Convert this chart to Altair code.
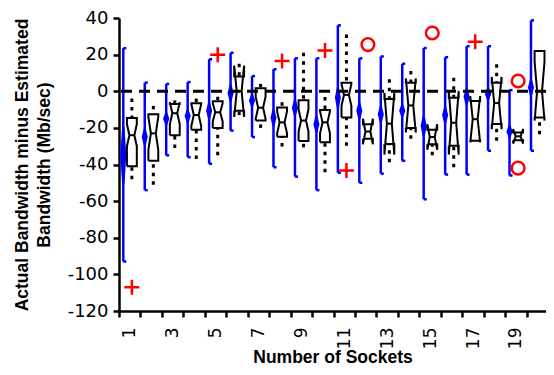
import altair as alt
import pandas as pd

# ---------------- data ----------------
sockets = list(range(1, 21))

# blue range lines (top / bottom) and the blue diamond (centre, half height)
blue_hi = [23.5, 4.7, 4, 5, 17.5, 21, 8.3, 12, 18, 18, 36, 18, 19, 15, 23.6, 18.6, 24.6, 24.6, 0.6, 38.7]
blue_lo = [-93, -54, -35, -36, -39.6, -21.5, -25, -41.5, -46.6, -54, -44.5, -50, -45, -38, -59, -45.5, -45.5, -32.5, -46, -32.5]
blue_mid = [-35, -25, -15, -13.5, -10.7, -1, -5, -14.5, -9, -18, -3.5, -10.7, -12.6, -10.7, -19, -13, -3, -1.5, -22, 2]
blue_half = [15, 4, 3, 3, 4, 4, 3, 4, 4, 4, 5, 4, 4, 3, 5, 4, 4, 3, 3, 4]

# notched box plots
q1 = [-41, -38, -24, -21, -20, -10.7, -16, -24.8, -27.1, -27.9, -14.3, -26, -28.8, -20.1, -29, -29.7, -27, -17.9, -26.7, -14.3]
q3 = [-14.6, -12.5, -7, -6.5, -5.5, 8, 1.6, -8.9, -4.9, -10.3, 4.6, -18, -4.3, 4.7, -21, -3.5, -5.3, 4.7, -22.5, 22]
median = [-24, -23, -12, -13, -11.5, 0, -9, -17, -16, -17, -2, -22, -17.7, -7.75, -25, -17.2, -15.25, -6.45, -24.6, 0]
notch = [6, 9, 6, 6, 5, 14, 6, 6, 6, 6, 6, 7, 16.9, 14.75, 7, 17.4, 12.65, 14.25, 4, 16]
whisker_hi = [-4, -8, -5, -4, -3, 15, 4, -6, 21, -3.2, 31, -18, 6.5, 11, -21, 7.4, -5.3, 14.7, -22.5, 22]
whisker_lo = [-48, -51, -31, -37, -35, -13, -20, -30.2, -30.6, -44.2, -29.7, -26, -38.8, -26, -35, -41.5, -27, -27, -26.7, -23.5]

# outliers
plus_socket = [1, 5, 8, 10, 11, 17]
plus_value = [-107, 20, 16.5, 22.3, -43.3, 27]
circle_socket = [12, 15, 19, 19]
circle_value = [25.5, 31.8, 5.6, -42]

y_ticks = list(range(-120, 41, 20))

# ---------------- styling constants ----------------
BOX_SHIFT = 0.1
BLUE_SHIFT = -0.3
HALF_W = 0.23
INDENT = 0.115
CAP_LEN = 0.14
DIAM_PX = 6
BLUE = "#0000FF"
RED = "#FF0000"

# ---------------- tables built from the arrays ----------------
blue_df = pd.DataFrame({
    "socket": sockets,
    "bx": [s + BLUE_SHIFT for s in sockets],
    "cx": [s + BLUE_SHIFT + CAP_LEN for s in sockets],
    "hi": blue_hi,
    "lo": blue_lo,
})

diam_rows = []
for s, m, h in zip(sockets, blue_mid, blue_half):
    bx = s + BLUE_SHIFT
    for k, (yy, w) in enumerate([(m + h, 2.5), (m, DIAM_PX), (m - h, 2.5)]):
        diam_rows.append({"socket": s, "k": k, "y": yy, "x": bx, "w": w})
diam_df = pd.DataFrame(diam_rows)

poly_rows = []
med_rows = []
whisk_rows = []
for s, a, b, m, n, wh, wl in zip(sockets, q1, q3, median, notch, whisker_hi, whisker_lo):
    c = s + BOX_SHIFT
    L, R = c - HALF_W, c + HALF_W
    pts = [(L, a), (L, m - n), (L + INDENT, m), (L, m + n), (L, b),
           (R, b), (R, m + n), (R - INDENT, m), (R, m - n), (R, a), (L, a)]
    for k, (px, py) in enumerate(pts):
        poly_rows.append({"socket": s, "k": k, "x": px, "y": py})
    med_rows.append({"socket": s, "xl": L + INDENT, "xr": R - INDENT, "m": m})
    if wh > b:
        whisk_rows.append({"socket": s, "x": c, "y1": wh, "y2": b})
    if wl < a:
        whisk_rows.append({"socket": s, "x": c, "y1": wl, "y2": a})
poly_df = pd.DataFrame(poly_rows)
med_df = pd.DataFrame(med_rows)
whisk_df = pd.DataFrame(whisk_rows)

plus_df = pd.DataFrame({"x": [s + BOX_SHIFT for s in plus_socket], "y": plus_value})
circ_df = pd.DataFrame({"x": [s + BOX_SHIFT for s in circle_socket], "y": circle_value})
zero_df = pd.DataFrame({"z": [0]})

# ---------------- scales & axes ----------------
x_scale = alt.Scale(domain=[0.5, 20.4], nice=False, zero=False)
y_scale = alt.Scale(domain=[-120, 40], nice=False, zero=False)

half_vals = [s - 0.5 for s in range(1, 21)]
label_vals = list(range(1, 20, 2))

TITLE_FONT = "Liberation Sans, Arial, sans-serif"

x_axis = alt.Axis(
    values=sorted(half_vals + label_vals),
    title="Number of Sockets",
    labelExpr="datum.value % 1 == 0 ? toString(datum.value) : ''",
    labelAngle=270,
    labelPadding=10,
    labelOverlap=False,
    labelFlush=False,
    labelFont="DejaVu Sans",
    labelFontSize=17,
    labelColor="black",
    tickOpacity={"condition": {"test": "datum.value % 1 != 0", "value": 1}, "value": 0},
    tickSize=6,
    tickWidth=2.5,
    tickColor="black",
    domainColor="black",
    domainWidth=2.5,
    grid=False,
    titleFont=TITLE_FONT,
    titleFontSize=17.5,
    titleFontWeight="bold",
    titleColor="black",
    titlePadding=0,
)

y_axis = alt.Axis(
    values=y_ticks,
    title=["Actual Bandwidth minus Estimated", "Bandwidth (Mb/sec)"],
    labelExpr="toString(datum.value)",
    labelFont="DejaVu Sans",
    labelFontSize=18,
    labelColor="black",
    labelPadding=5,
    tickSize=6,
    tickWidth=2.5,
    tickColor="black",
    domainColor="black",
    domainWidth=2.5,
    grid=False,
    titleFont=TITLE_FONT,
    titleFontSize=17.5,
    titleFontWeight="bold",
    titleColor="black",
    titleLineHeight=22,
    titlePadding=14,
)


def X(field):
    return alt.X(field, type="quantitative", scale=x_scale, axis=x_axis)


def Y(field):
    return alt.Y(field, type="quantitative", scale=y_scale, axis=y_axis)


# ---------------- layers ----------------
blue_lines = alt.Chart(blue_df).mark_rule(color=BLUE, strokeWidth=2.5).encode(
    x=X("bx"), y=Y("lo"), y2="hi:Q",
)
caps_top = alt.Chart(blue_df).mark_rule(color=BLUE, strokeWidth=2.5).encode(
    x=X("bx"), x2="cx:Q", y=Y("hi"),
)
caps_bot = alt.Chart(blue_df).mark_rule(color=BLUE, strokeWidth=2.5).encode(
    x=X("bx"), x2="cx:Q", y=Y("lo"),
)
diamonds = alt.Chart(diam_df).mark_trail(color=BLUE, opacity=1).encode(
    x=X("x"), y=Y("y"),
    size=alt.Size("w:Q", scale=None, legend=None),
    detail="socket:N",
    order="k:Q",
)
zero_line = alt.Chart(zero_df).mark_rule(color="black", strokeWidth=3, strokeDash=[11, 7]).encode(
    y=Y("z"),
)
whiskers = alt.Chart(whisk_df).mark_rule(color="black", strokeWidth=3, strokeDash=[3.5, 5]).encode(
    x=X("x"), y=Y("y1"), y2="y2:Q",
)
boxes = alt.Chart(poly_df).mark_line(color="black", strokeWidth=2, strokeJoin="miter").encode(
    x=X("x"), y=Y("y"),
    detail="socket:N",
    order="k:Q",
)
medians = alt.Chart(med_df).mark_rule(color="black", strokeWidth=2).encode(
    x=X("xl"), x2="xr:Q", y=Y("m"),
)
plus_pts = alt.Chart(plus_df).mark_point(
    shape="M-1,0L1,0M0,-1L0,1", size=225, strokeWidth=2.5, color=RED, filled=False, opacity=1
).encode(x=X("x"), y=Y("y"))
circ_pts = alt.Chart(circ_df).mark_point(
    shape="circle", size=160, strokeWidth=2.5, color=RED, filled=False, opacity=1
).encode(x=X("x"), y=Y("y"))

chart = alt.layer(
    blue_lines, caps_top, caps_bot, diamonds, zero_line, whiskers, boxes, medians, plus_pts, circ_pts
).properties(
    width=427,
    height=293,
    padding={"left": 111, "top": 10, "right": 0, "bottom": 56},
    autosize=alt.AutoSizeParams(type="none"),
    background="white",
).configure_view(stroke=None)

chart.save("out.html", embed_options={"renderer": "svg", "actions": False})
